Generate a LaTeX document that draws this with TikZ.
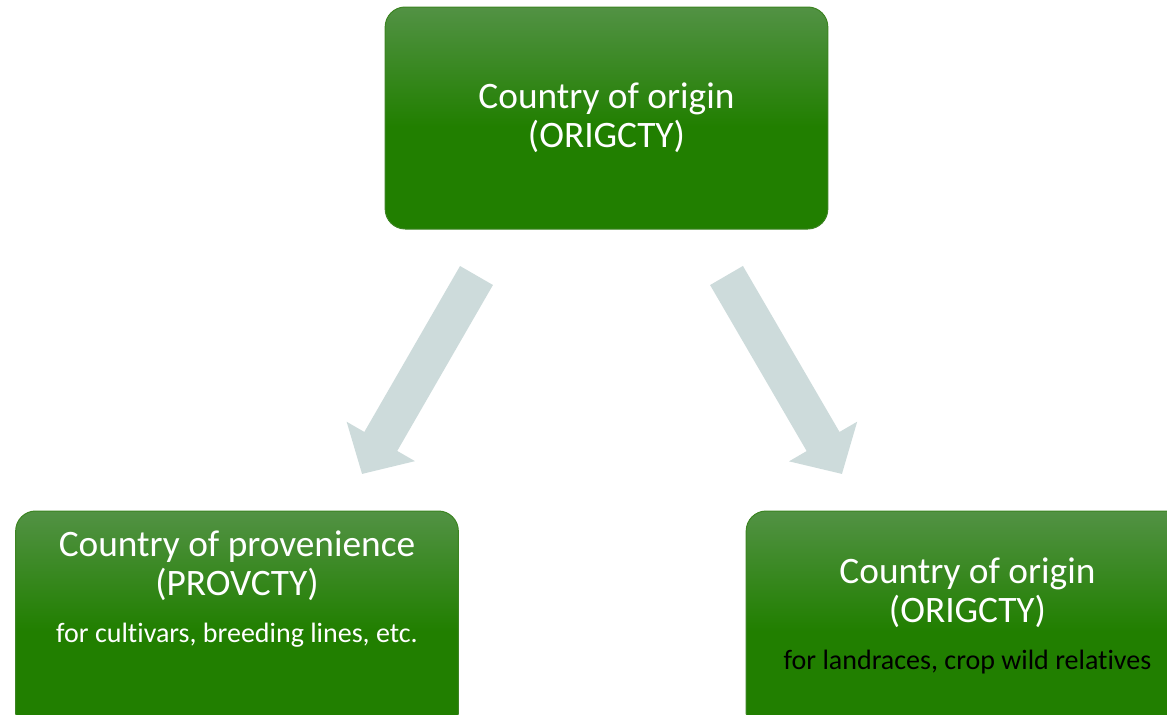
\documentclass[tikz,border=0pt]{standalone}
\usepackage{fontspec}
\setmainfont{Carlito}[Ligatures=NoCommon]
\usetikzlibrary{arrows.meta}
\definecolor{boxtop}{RGB}{82,146,68}
\definecolor{boxbot}{RGB}{33,127,0}
\definecolor{boxline}{RGB}{60,132,34}
\definecolor{arrowgrey}{RGB}{205,219,219}
\pgfdeclareverticalshading{boxshade}{100bp}{color(0bp)=(boxbot); color(25bp)=(boxbot); color(48bp)=(boxbot); color(75bp)=(boxtop); color(100bp)=(boxtop)}
\newcommand{\notefont}{\fontsize{21}{24}\selectfont}
\tikzstyle{countrybox} = [rectangle, rounded corners=15pt, minimum width=332pt, minimum height=166.5pt, inner sep=0pt, draw=boxline, line width=0.75pt, shading=boxshade]
\tikzstyle{boxtext} = [align=center, text=white, inner sep=0pt, font=\fontsize{28}{29.25}\selectfont]
\tikzstyle{bigarrow} = [line width=28.5pt, draw=arrowgrey, -{Triangle[width=57.5pt,length=28.2pt]}]

\begin{document}
\begin{tikzpicture}[x=0.75pt,y=-0.75pt]
    \useasboundingbox (0,0) rectangle (1167,714);
    \clip (0,0) rectangle (1167,714);

    \node (orig) [countrybox] at (606.5,118) {};
    \node (prov) [countrybox] at (237,622) {};
    \node (origw) [countrybox] at (967.5,622) {};

    \node (origtxt) [boxtext] at (orig.center) {Country of origin\\(ORIGCTY)};
    \node (provtxt) [boxtext] at (237,589) {Country of provenience\\(PROVCTY)\\[6pt]{\notefont for cultivars, breeding lines, etc.}};
    \node (origwtxt) [boxtext] at (967.5,616) {Country of origin\\(ORIGCTY)\\[6pt]{\notefont\color{black} for landraces, crop wild relatives}};

    \coordinate (ltail) at (476.5,275.5);
    \coordinate (lhead) at (362,474);
    \coordinate (rtail) at (726.5,275.5);
    \coordinate (rhead) at (842,474);

    \draw [bigarrow] (ltail) -- (lhead);
    \draw [bigarrow] (rtail) -- (rhead);
\end{tikzpicture}
\end{document}
